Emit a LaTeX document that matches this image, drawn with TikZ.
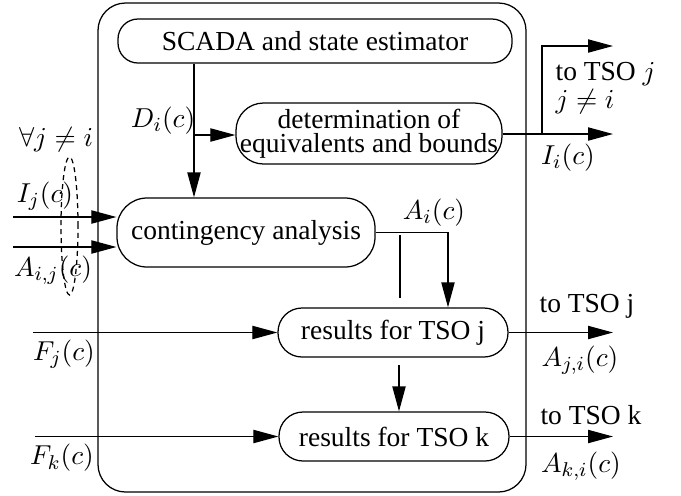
\documentclass[tikz,border=0pt]{standalone}
\usepackage{fontspec}
\setmainfont{Liberation Serif}
\usetikzlibrary{arrows.meta}
\begin{document}
\begin{tikzpicture}[x=0.4pt,y=-0.4pt, line width=0.5pt, font=\fontsize{11}{13}\selectfont,
  box/.style={draw, rounded corners=#1, inner sep=0pt, align=center},
  arr/.style={-{Triangle[length=10pt,width=5.3pt]}},
  lbl/.style={inner sep=0pt}]
\useasboundingbox (0,0) rectangle (681,495);
\node[draw, rounded corners=11pt, minimum width=171.2pt, minimum height=195.6pt, inner sep=0pt] (frame) at (312,247.5) {};
\node[box=8pt, minimum width=157.6pt, minimum height=17.6pt] (scada) at (315,41) {SCADA and state estimator};
\node[box=11pt, minimum width=106.4pt, minimum height=24.4pt, font=\fontsize{11}{9.6}\selectfont] (det) at (369,133.5) {determination of\\equivalents and bounds};
\node[box=12pt, minimum width=103.2pt, minimum height=27.6pt] (cont) at (246,232.5) {contingency analysis};
\node[box=9.6pt, minimum width=92pt, minimum height=19.6pt] (resj) at (393,332.5) {results for TSO j};
\node[box=9.6pt, minimum width=92pt, minimum height=19.6pt] (resk) at (394,436.5) {results for TSO k};
% connectors
\coordinate (dx) at (194,0);
\draw[arr] (scada.south -| dx) -- (cont.north -| dx);
\coordinate (db) at (194,135);
\draw[arr] (db) -- (det.west |- db);
\coordinate (oI) at (613,134);
\coordinate (oT) at (613,46);
\coordinate (br) at (542,134);
\draw[arr] (det.east |- oI) -- (oI);
\draw[arr] (br) |- (oT);
\coordinate (iI) at (13,217);
\coordinate (iA) at (13,247);
\draw[arr] (iI) -- (iI -| cont.west);
\draw[arr] (iA) -- (iA -| cont.west);
\coordinate (ad) at (448,0);
\draw[arr] (cont.east) -| (resj.north -| ad);
\coordinate (v1) at (400,235);
\coordinate (v2) at (400,298);
\draw (v1) -- (v2);
\coordinate (fj) at (33,332.5);
\coordinate (fk) at (35,436.5);
\draw[arr] (fj) -- (resj.west);
\draw[arr] (fk) -- (resk.west);
\coordinate (jk) at (399,365);
\draw[arr] (jk) -- (jk |- resk.north);
\coordinate (oj) at (613,332.5);
\coordinate (ok) at (613,436.5);
\draw[arr] (resj.east) -- (oj);
\draw[arr] (resk.east) -- (ok);
% labels
\node[lbl] (lD) at (163,121) {$D_i(c)$};
\node[lbl] (lall) at (56,140) {$\forall j\neq i$};
\node[lbl] (lIj) at (45,196) {$I_j(c)$};
\node[lbl] (lAij) at (53,270) {$A_{i,j}(c)$};
\node[lbl] (lAi) at (434,213) {$A_i(c)$};
\node[lbl, anchor=west] (ltj) at (555,74) {to TSO $j$};
\node[lbl, anchor=west] (lji) at (555,102) {$j\neq i$};
\node[lbl] (lIi) at (568,158) {$I_i(c)$};
\node[lbl] (ltj2) at (587,306) {to TSO j};
\node[lbl] (lAji) at (580,360) {$A_{j,i}(c)$};
\node[lbl] (ltk) at (591,415) {to TSO k};
\node[lbl] (lAki) at (581,466) {$A_{k,i}(c)$};
\node[lbl] (lFj) at (64,354) {$F_j(c)$};
\node[lbl] (lFk) at (62,458) {$F_k(c)$};
\draw[dash pattern=on 2pt off 1.6pt] (69.5,226) ellipse [x radius=3.4pt, y radius=27.6pt];
\end{tikzpicture}
\end{document}
